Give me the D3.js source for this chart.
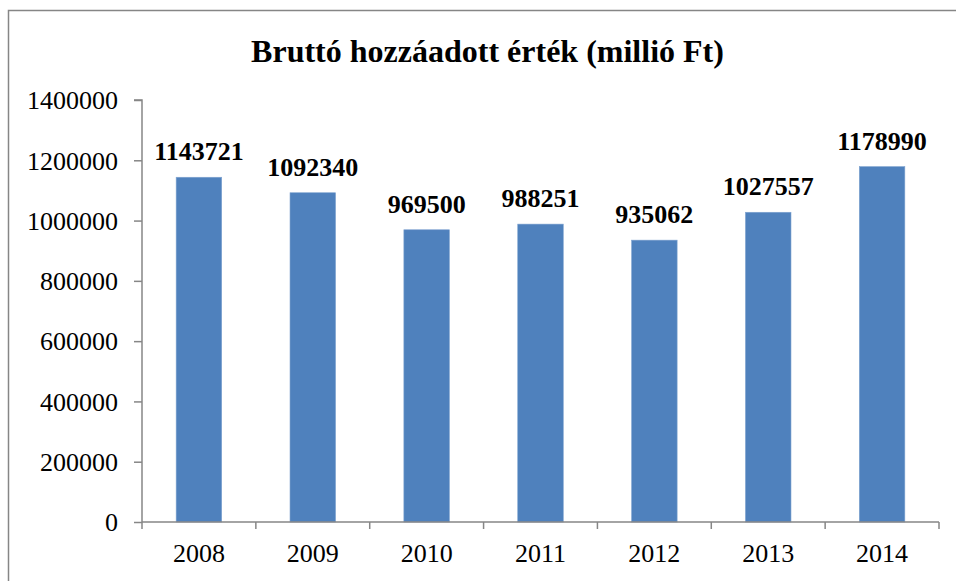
<!DOCTYPE html>
<html>
<head>
<meta charset="utf-8">
<script src="https://cdn.jsdelivr.net/npm/d3@7/dist/d3.min.js"></script>
<style>
  html, body { margin: 0; padding: 0; background: #fff; }
  svg { display: block; }
  text { font-family: 'Liberation Serif', 'Times New Roman', serif; }
</style>
</head>
<body>
<svg id="chart" width="956" height="581"></svg>
<script>
const title = "Bruttó hozzáadott érték (millió Ft)";
const categories = ["2008", "2009", "2010", "2011", "2012", "2013", "2014"];
const values = [1143721, 1092340, 969500, 988251, 935062, 1027557, 1178990];
const yTicks = [0, 200000, 400000, 600000, 800000, 1000000, 1200000, 1400000];

const svg = d3.select("#chart");
const plot = { left: 142, right: 939, top: 100, bottom: 522 };
const font = "'Liberation Serif', 'Times New Roman', serif";
const axisColor = "#868686";

// outer frame
svg.append("rect")
  .attr("x", 8.5).attr("y", 10.5)
  .attr("width", 960).attr("height", 600)
  .attr("fill", "none").attr("stroke", axisColor).attr("stroke-width", 1.5);

const x = d3.scaleBand().domain(categories).range([plot.left, plot.right]).paddingInner(0.6).paddingOuter(0.3);
const xOuter = d3.scaleBand().domain(categories).range([plot.left, plot.right]);
const y = d3.scaleLinear().domain([0, 1400000]).range([plot.bottom, plot.top]);

// bars
svg.append("g").selectAll("rect").data(values).join("rect")
  .attr("x", (d, i) => x(categories[i]))
  .attr("y", d => y(d))
  .attr("width", x.bandwidth())
  .attr("height", d => y(0) - y(d))
  .attr("fill", "#4F81BD")
  .attr("stroke", "#7FA3D0").attr("stroke-width", 0.6);

// y axis
const yAxis = d3.axisLeft(y).tickValues(yTicks).tickSize(8).tickPadding(16).tickFormat(d3.format("d"));
const gy = svg.append("g").attr("transform", `translate(${plot.left},0)`).call(yAxis);
gy.attr("font-family", null);
gy.select(".domain").attr("stroke", axisColor).attr("stroke-width", 1.5).attr("d", `M-8,${plot.top}H0V${plot.bottom}`);
gy.selectAll(".tick line").attr("stroke", axisColor).attr("stroke-width", 1.5);
gy.selectAll(".tick text").style("font-family", font).style("font-size", "26px").attr("fill", "#000").attr("dy", "0.34em");

// x axis
const xAxis = d3.axisBottom(xOuter).tickSize(0).tickPadding(22);
const gx = svg.append("g").attr("transform", `translate(0,${plot.bottom})`).call(xAxis);
gx.attr("font-family", null);
gx.select(".domain").attr("stroke", axisColor).attr("stroke-width", 1.5).attr("d", `M${plot.left},0H${plot.right}`);
gx.selectAll(".tick text").style("font-family", font).style("font-size", "26px").attr("fill", "#000");
// category boundary ticks
const bounds = categories.map(c => xOuter(c)).concat([plot.right]);
svg.append("g").selectAll("line").data(bounds).join("line")
  .attr("x1", d => d).attr("x2", d => d)
  .attr("y1", plot.bottom).attr("y2", plot.bottom + 7)
  .attr("stroke", axisColor).attr("stroke-width", 1.5);

// data labels
svg.append("g").selectAll("text").data(values).join("text")
  .attr("x", (d, i) => x(categories[i]) + x.bandwidth() / 2)
  .attr("y", d => y(d) - 17)
  .attr("text-anchor", "middle")
  .style("font-family", font).style("font-size", "26px").style("font-weight", "bold")
  .attr("fill", "#000")
  .text(d => d);

// title
svg.append("text")
  .attr("x", 487.5).attr("y", 62)
  .attr("text-anchor", "middle")
  .style("font-family", font).style("font-size", "32px").style("font-weight", "bold")
  .attr("fill", "#000")
  .text(title);
</script>
</body>
</html>
